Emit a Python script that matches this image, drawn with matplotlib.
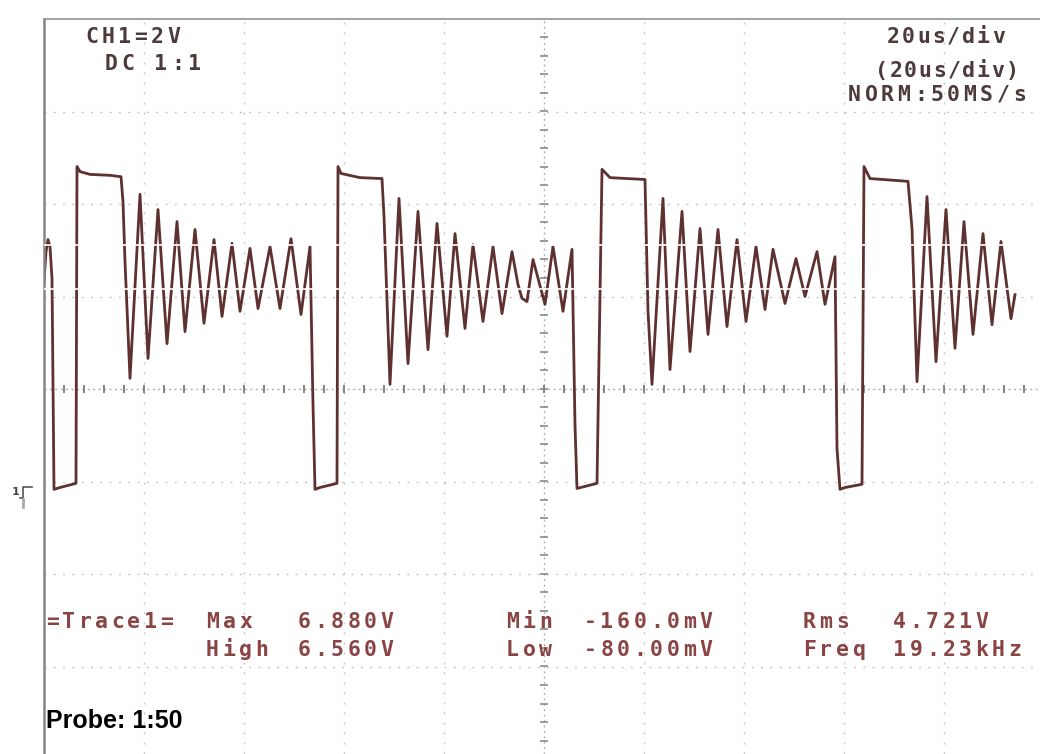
import numpy as np
import matplotlib.pyplot as plt
from matplotlib.lines import Line2D

W, H = 1040, 754

# trace: time in us, level in V (2 V/div, 20 us/div)
trace_t = [-100.0, -99.6, -99.2, -98.8, -98.4, -98.0, -96.8, -93.6,
           -93.4, -92.8, -90.8, -86.8, -84.6, -84.2, -83.8, -82.8,
           -80.8, -79.2, -77.2, -75.4, -73.4, -71.8, -69.8, -68.0,
           -66.0, -64.4, -62.4, -60.8, -58.8, -57.2, -54.8, -52.8,
           -50.6, -48.6, -46.8, -46.2, -45.8, -44.8, -41.4,
           -41.2, -40.6, -36.8, -32.4, -32.0, -30.8, -29.0, -27.2,
           -25.2, -23.2, -21.4, -19.4, -17.8, -15.8, -14.2, -12.2,
           -10.2, -8.4, -6.4, -5.2, -4.4, -3.4, -2.2, 0.2,
           1.8, 3.8, 5.6, 6.2, 6.6, 10.6,
           11.6, 13.2, 20.2, 20.8, 21.6, 23.8, 25.2, 27.6,
           29.2, 31.2, 32.8, 34.8, 36.6, 38.6, 40.4, 42.4,
           44.2, 45.8, 48.2, 50.4, 52.2, 54.6, 56.2, 58.2,
           58.6, 59.2, 60.2, 63.6,
           64.0, 65.2, 72.8, 73.6, 74.6, 76.6, 78.4, 80.4,
           82.2, 84.0, 85.8, 87.8, 89.6, 91.4, 93.4, 94.2]
trace_v = [4.32, 4.97, 5.23, 5.08, 4.39, -0.17, -0.13, -0.04,
           6.81, 6.70, 6.64, 6.62, 6.59, 6.05, 4.76, 2.23,
           6.21, 2.66, 5.88, 2.98, 5.62, 3.24, 5.45, 3.42,
           5.23, 3.57, 5.15, 3.68, 5.04, 3.74, 5.08, 3.74,
           5.25, 3.61, 5.08, 1.66, -0.17, -0.13, -0.04,
           6.81, 6.66, 6.57, 6.55, 5.73, 2.10, 6.12, 2.55,
           5.84, 2.85, 5.58, 3.14, 5.36, 3.31, 5.12, 3.46,
           5.08, 3.63, 4.97, 4.26, 3.96, 3.89, 4.80, 3.83,
           5.08, 3.68, 5.02, 1.23, -0.15, -0.04,
           6.75, 6.57, 6.53, 3.68, 2.10, 6.12, 2.42, 5.84,
           2.81, 5.47, 3.18, 5.45, 3.35, 5.23, 3.46, 5.08,
           3.72, 5.02, 3.85, 4.82, 4.00, 4.97, 3.83, 4.86,
           0.71, -0.17, -0.13, -0.06,
           6.81, 6.55, 6.49, 5.47, 2.16, 6.16, 2.59, 5.88,
           2.88, 5.62, 3.18, 5.36, 3.39, 5.19, 3.52, 4.04]

meas_names = ["Max", "High", "Min", "Low", "Rms", "Freq"]
meas_values = ["6.880V", "6.560V", "-160.0mV", "-80.00mV", "4.721V", "19.23kHz"]

fig = plt.figure(figsize=(W / 100, H / 100), dpi=100)
fig.patch.set_facecolor("white")

# screen area: 10 div x 8 div, 100 px and 92.5 px per division
ax = fig.add_axes([44 / W, 0, 1000 / W, (H - 19) / H])
ax.set_xlim(-100, 100)
ax.set_ylim(10 - (H - 19) / 92.5 * 2, 10)
ax.set_xticks([])
ax.set_yticks([])
ax.spines["right"].set_visible(False)
ax.spines["bottom"].set_visible(False)
ax.spines["left"].set_color("#858585")
ax.spines["left"].set_linewidth(1.8)
ax.spines["top"].set_color("#9a9a9a")
ax.spines["top"].set_linewidth(1.3)

grid_col = "#c4c4c4"
for t in range(-80, 101, 20):
    if t != 0:
        ax.axvline(t, color=grid_col, lw=1, dashes=(1.4, 5.8))
for v in range(-4, 10, 2):
    if v != 2:
        ax.axhline(v, color=grid_col, lw=1, dashes=(1.4, 5.3))

# centre cross with small division marks
ax.axhline(2, color="#aaaaaa", lw=1, dashes=(1.4, 2.5))
ax.axvline(0, color="#b0b0b0", lw=1, dashes=(1.4, 2.5))
ht = np.arange(-96, 100, 4)
ax.plot(ht, np.full(len(ht), 2.0), ls="none", marker="|", ms=6, mew=1.3, color="#7a7a7a")
vt = np.arange(-5.6, 10, 0.4)
ax.plot(np.zeros(len(vt)), vt, ls="none", marker="_", ms=6, mew=1.2, color="#8a8a8a")

ax.plot(trace_t, trace_v, color="#5e3030", lw=2.0, solid_joinstyle="round")

# interlace streaks across the photo
ax.axhline(5.12, color="white", lw=1.2, zorder=5)
ax.axhline(4.17, color="white", lw=1.2, zorder=5)


def scope_text(x, y, s, pitch=16.5, color="#8a4444", size=15.5):
    for i, ch in enumerate(s):
        fig.text((x + i * pitch) / W, 1 - y / H, ch, ha="left", va="baseline",
                 family="DejaVu Sans Mono", weight="bold", fontsize=size, color=color)


scope_text(85, 43, "CH1=2V", color="#4d3a3a")
scope_text(105, 70, "DC 1:1", color="#4d3a3a")
scope_text(887, 43, "20us/div", pitch=15, color="#4d3a3a")
scope_text(875, 77, "(20us/div)", pitch=14.5, color="#4d3a3a")
scope_text(848, 101, "NORM:50MS/s", pitch=16.5, color="#4d3a3a")

scope_text(46, 628, "=Trace1=", pitch=16.3)
col_x = [(206, 298), (506, 584), (803, 893)]
for k, (nx, vx) in enumerate(col_x):
    scope_text(nx, 628, meas_names[2 * k])
    scope_text(nx, 656, meas_names[2 * k + 1])
    scope_text(vx, 628, meas_values[2 * k])
    scope_text(vx, 656, meas_values[2 * k + 1])

fig.text(46 / W, 1 - 728 / H, "Probe: 1:50", family="Liberation Sans", weight="bold",
         fontsize=18, color="black", ha="left", va="baseline")

# trigger level marker
fig.text(12 / W, 1 - 495 / H, "1", family="DejaVu Sans", weight="bold", fontsize=8,
         color="#444444", ha="left", va="baseline")
fig.add_artist(Line2D([20 / W, 23 / W, 23 / W, 32 / W],
                      [1 - 498 / H, 1 - 498 / H, 1 - 487 / H, 1 - 487 / H],
                      color="#555555", lw=1.2))
fig.add_artist(Line2D([23 / W, 23 / W], [1 - 499 / H, 1 - 507 / H], color="#aaaaaa", lw=2))

fig.savefig("out.png", dpi=100, facecolor="white")
